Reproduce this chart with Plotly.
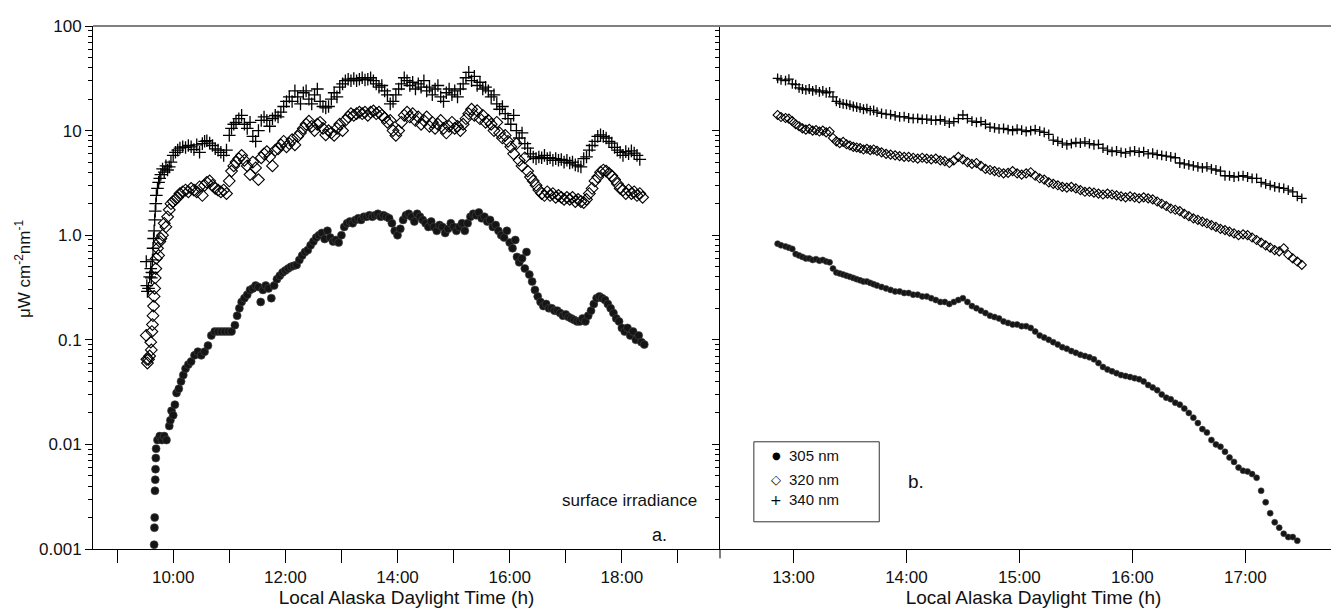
import plotly.graph_objects as go

# ---------------- data (hours local time, irradiance) ----------------
# panel a. (left)
a305_t = [9.66, 9.665, 9.67, 9.675, 9.68, 9.685, 9.69, 9.695, 9.72, 9.76, 9.80, 9.84, 9.88, 9.93, 9.95, 9.97,
          10.00, 10.03, 10.06, 10.10, 10.14, 10.18, 10.22, 10.27, 10.32, 10.38, 10.44, 10.50, 10.56, 10.62, 10.68,
          10.74, 10.80, 10.86, 10.92, 10.98, 11.04, 11.10, 11.14, 11.18, 11.22, 11.27, 11.32, 11.37, 11.42, 11.47,
          11.52, 11.56, 11.60, 11.65, 11.70, 11.75, 11.80, 11.85, 11.90, 11.95, 12.00, 12.05, 12.10, 12.15, 12.20,
          12.25, 12.30, 12.35, 12.40, 12.45, 12.50, 12.55, 12.60, 12.65, 12.70, 12.75, 12.80, 12.85, 12.90, 12.95,
          13.00, 13.05, 13.10, 13.15, 13.20, 13.25, 13.30, 13.35, 13.40, 13.45, 13.50, 13.55, 13.60, 13.65, 13.70,
          13.75, 13.80, 13.85, 13.90, 13.95, 14.00, 14.05, 14.10, 14.15, 14.20, 14.25, 14.30, 14.35, 14.40, 14.45,
          14.50, 14.55, 14.60, 14.65, 14.70, 14.75, 14.80, 14.85, 14.90, 14.95, 15.00, 15.05, 15.10, 15.15, 15.20,
          15.25, 15.30, 15.35, 15.40, 15.45, 15.50, 15.55, 15.60, 15.65, 15.70, 15.75, 15.80, 15.85, 15.90, 15.95,
          16.00, 16.05, 16.10, 16.13, 16.17, 16.22, 16.27, 16.30, 16.35, 16.40, 16.45, 16.50, 16.55, 16.60, 16.65,
          16.70, 16.75, 16.80, 16.85, 16.90, 16.95, 17.00, 17.05, 17.10, 17.15, 17.20, 17.25, 17.30, 17.35, 17.40,
          17.45, 17.50, 17.55, 17.60, 17.65, 17.70, 17.75, 17.80, 17.85, 17.90, 17.95, 18.00, 18.05, 18.10, 18.15,
          18.20, 18.25, 18.30, 18.35, 18.40]
a305_v = [0.0011, 0.0016, 0.002, 0.0036, 0.0046, 0.0058, 0.0074, 0.0091, 0.011, 0.012, 0.011, 0.012, 0.011, 0.015,
          0.017, 0.021, 0.019, 0.024, 0.031, 0.034, 0.040, 0.046, 0.053, 0.058, 0.062, 0.071, 0.077, 0.071, 0.077,
          0.088, 0.11, 0.12, 0.12, 0.12, 0.12, 0.12, 0.12, 0.138, 0.17, 0.2, 0.23, 0.25, 0.27, 0.30, 0.31, 0.33,
          0.32, 0.23, 0.30, 0.33, 0.31, 0.25, 0.33, 0.38, 0.41, 0.44, 0.46, 0.48, 0.5, 0.51, 0.52, 0.58, 0.64, 0.69,
          0.72, 0.80, 0.87, 0.95, 1.0, 1.05, 0.92, 1.1, 0.95, 0.87, 0.90, 0.85, 1.0, 1.2, 1.3, 1.35, 1.3, 1.4, 1.45,
          1.4, 1.5, 1.5, 1.55, 1.5, 1.55, 1.6, 1.5, 1.55, 1.5, 1.45, 1.3, 1.1, 1.0, 1.15, 1.4, 1.55, 1.6, 1.5, 1.35,
          1.6, 1.5, 1.4, 1.3, 1.2, 1.35, 1.2, 1.1, 1.25, 1.2, 1.05, 1.15, 1.3, 1.2, 1.1, 1.2, 1.3, 1.1, 1.3, 1.5, 1.6,
          1.55, 1.65, 1.45, 1.5, 1.35, 1.4, 1.2, 1.25, 1.1, 1.0, 0.95, 1.1, 0.85, 0.75, 0.9, 0.62, 0.55, 0.6, 0.48,
          0.69, 0.42, 0.36, 0.3, 0.26, 0.23, 0.21, 0.22, 0.2, 0.2, 0.19, 0.19, 0.18, 0.17, 0.175, 0.165, 0.16, 0.155,
          0.15, 0.15, 0.16, 0.15, 0.17, 0.19, 0.22, 0.25, 0.26, 0.25, 0.24, 0.22, 0.2, 0.18, 0.16, 0.15, 0.13, 0.12,
          0.13, 0.11, 0.12, 0.1, 0.11, 0.095, 0.09]

a320_t = [9.52, 9.53, 9.54, 9.56, 9.58, 9.60, 9.61, 9.62, 9.63, 9.64, 9.65, 9.66, 9.67, 9.68, 9.69, 9.70, 9.72,
          9.74, 9.76, 9.78, 9.81, 9.84, 9.87, 9.90, 9.93, 9.96, 10.00, 10.04, 10.08, 10.12, 10.17, 10.22, 10.27,
          10.32, 10.37, 10.42, 10.47, 10.52, 10.56, 10.60, 10.65, 10.70, 10.75, 10.80, 10.85, 10.90, 10.95, 11.00,
          11.04, 11.08, 11.12, 11.17, 11.22, 11.27, 11.32, 11.37, 11.42, 11.47, 11.52, 11.57, 11.62, 11.67, 11.72,
          11.77, 11.82, 11.87, 11.92, 11.97, 12.02, 12.07, 12.12, 12.17, 12.22, 12.27, 12.32, 12.37, 12.42, 12.47,
          12.52, 12.57, 12.62, 12.67, 12.72, 12.77, 12.82, 12.87, 12.92, 12.97, 13.02, 13.07, 13.12, 13.17, 13.22,
          13.27, 13.32, 13.37, 13.42, 13.47, 13.52, 13.57, 13.62, 13.67, 13.72, 13.77, 13.82, 13.87, 13.92, 13.97,
          14.02, 14.07, 14.12, 14.17, 14.22, 14.27, 14.32, 14.37, 14.42, 14.47, 14.52, 14.57, 14.62, 14.67, 14.72,
          14.77, 14.82, 14.87, 14.92, 14.97, 15.02, 15.07, 15.12, 15.17, 15.22, 15.27, 15.32, 15.37, 15.42, 15.47,
          15.52, 15.57, 15.62, 15.67, 15.72, 15.77, 15.82, 15.87, 15.92, 15.97, 16.02, 16.07, 16.12, 16.17, 16.22,
          16.27, 16.32, 16.37, 16.42, 16.47, 16.52, 16.57, 16.62, 16.67, 16.72, 16.77, 16.82, 16.87, 16.92, 16.97,
          17.02, 17.07, 17.12, 17.17, 17.22, 17.27, 17.32, 17.37, 17.42, 17.47, 17.52, 17.57, 17.62, 17.67, 17.72,
          17.77, 17.82, 17.87, 17.92, 17.97, 18.02, 18.07, 18.12, 18.17, 18.22, 18.27, 18.32, 18.37]
a320_v = [0.11, 0.065, 0.06, 0.065, 0.07, 0.095, 0.08, 0.12, 0.14, 0.17, 0.21, 0.26, 0.31, 0.39, 0.48, 0.6, 0.75,
          0.64, 0.87, 0.93, 1.0, 1.3, 1.2, 1.5, 1.75, 2.0, 2.1, 2.2, 2.3, 2.5, 2.6, 2.7, 2.6, 2.8, 2.7, 2.6, 2.9, 2.4,
          3.0, 3.2, 3.3, 3.0, 2.8, 2.7, 2.6, 2.7, 2.5, 3.3, 4.1, 4.6, 5.0, 5.4, 5.8, 5.2, 4.6, 3.8, 5.0, 4.4, 3.4,
          5.5, 6.0, 6.3, 5.6, 4.6, 6.5, 6.7, 7.3, 7.9, 7.0, 7.5, 8.2, 7.3, 8.8, 9.5, 10.5, 11.5, 12.3, 11.0, 10.0,
          11.5, 12.0, 10.5, 9.1, 10.0, 9.5, 9.0, 10.5, 11.5, 10.0, 12.5, 13.5, 14.5, 14.0, 14.5, 15.0, 14.5, 15.0,
          14.0, 15.0, 15.4, 14.5, 15.0, 14.0, 13.2, 12.0, 12.5, 10.0, 9.0, 10.0, 12.0, 14.0, 15.0, 13.5, 14.5, 12.5,
          13.5, 11.5, 12.5, 13.5, 11.0, 12.0, 10.5, 11.5, 12.5, 10.5, 9.5, 11.0, 12.0, 10.5, 11.0, 10.0, 11.5, 13.0,
          14.5, 16.0, 14.0, 15.5, 13.0, 14.0, 12.0, 12.5, 11.5, 10.0, 12.0, 9.5, 8.5, 9.0, 7.9, 7.0, 6.0, 7.5, 5.2,
          4.6, 5.5, 4.1, 3.6, 3.3, 3.0, 2.7, 2.5, 2.4, 2.6, 2.4, 2.5, 2.3, 2.4, 2.3, 2.2, 2.3, 2.2, 2.3, 2.1, 2.2,
          2.1, 2.05, 2.2, 2.5, 2.8, 3.3, 3.6, 4.0, 4.2, 4.1, 3.9, 3.7, 3.4, 3.1, 2.8, 2.7, 2.5, 2.7, 2.5, 2.6, 2.4,
          2.5, 2.3]

a340_t = a320_t
a340_v = [0.56, 0.33, 0.29, 0.31, 0.40, 0.48, 0.39, 0.44, 0.58, 0.75, 0.93, 1.1, 1.4, 1.7, 2.0, 2.4, 2.8, 3.2,
          3.5, 3.8, 4.3, 4.0, 4.6, 4.2, 4.5, 5.0, 5.8, 6.2, 6.5, 6.8, 7.0, 6.9, 7.2, 7.0, 6.6, 7.3, 6.2, 7.5, 7.9,
          8.0, 7.6, 7.2, 6.7, 6.5, 6.2, 5.8, 6.5, 9.0, 10.5, 11.5, 12.0, 13.0, 14.0, 11.5, 10.5, 12.0, 8.8, 7.9,
          10.0, 12.5, 13.5, 12.5, 11.0, 13.0, 14.0, 13.5, 15.0, 17.0, 19.0, 21.0, 19.0, 24.0, 21.0, 18.0, 23.0,
          24.0, 20.0, 18.0, 22.0, 25.0, 19.0, 17.0, 16.5, 17.0, 20.0, 23.0, 21.0, 26.0, 28.0, 30.0, 31.0, 30.0,
          31.5, 30.0, 31.0, 32.0, 30.5, 31.0, 32.0, 30.0, 28.0, 26.0, 27.0, 24.0, 22.0, 18.0, 19.0, 22.0, 25.0,
          28.0, 32.0, 30.0, 27.0, 29.0, 25.0, 28.0, 26.0, 30.0, 24.0, 26.0, 22.0, 25.0, 27.0, 21.0, 19.0, 23.0,
          25.0, 22.0, 24.0, 21.0, 25.0, 28.0, 32.0, 36.0, 30.0, 33.0, 27.0, 29.0, 25.0, 26.0, 24.0, 21.0, 22.0,
          18.0, 16.0, 17.0, 14.5, 13.0, 11.5, 14.0, 10.0, 8.5, 9.5, 7.5, 6.8, 6.0, 5.6, 5.4, 5.6, 5.5, 5.8, 5.4,
          5.5, 5.2, 5.4, 5.2, 5.3, 5.0, 5.2, 4.9, 5.0, 4.7, 4.6, 4.5, 5.4, 5.6, 6.5, 7.2, 7.9, 8.8, 9.1, 8.8, 8.5,
          7.9, 7.6, 6.9, 6.5, 6.2, 5.8, 6.3, 6.0, 6.4, 6.1, 5.8, 5.3]

# panel b. (right)
b_t = [12.86, 12.89, 12.93, 12.96, 12.99, 13.02, 13.05, 13.08, 13.11, 13.14, 13.17, 13.20, 13.23, 13.26, 13.29,
       13.32, 13.35, 13.38, 13.41, 13.44, 13.47, 13.50, 13.53, 13.56, 13.59, 13.62, 13.65, 13.68, 13.71, 13.74,
       13.78, 13.82, 13.86, 13.90, 13.94, 13.98, 14.02, 14.06, 14.10, 14.14, 14.18, 14.22, 14.26, 14.30, 14.34,
       14.38, 14.42, 14.46, 14.50, 14.54, 14.58, 14.62, 14.66, 14.70, 14.74, 14.78, 14.82, 14.86, 14.90, 14.94,
       14.98, 15.02, 15.06, 15.10, 15.14, 15.18, 15.22, 15.26, 15.30, 15.34, 15.38, 15.42, 15.46, 15.50, 15.54,
       15.58, 15.62, 15.66, 15.70, 15.74, 15.78, 15.82, 15.86, 15.90, 15.94, 15.98, 16.02, 16.06, 16.10, 16.14,
       16.18, 16.22, 16.26, 16.30, 16.34, 16.38, 16.42, 16.46, 16.50, 16.54, 16.58, 16.62, 16.66, 16.70, 16.74,
       16.78, 16.82, 16.86, 16.90, 16.94, 16.98, 17.02, 17.06, 17.10, 17.14, 17.18, 17.22, 17.26, 17.30, 17.34,
       17.38, 17.42, 17.46, 17.50]
b305_v = [0.83, 0.80, 0.78, 0.76, 0.74, 0.66, 0.64, 0.62, 0.60, 0.60, 0.58, 0.59, 0.57, 0.58, 0.56, 0.55, 0.48,
          0.44, 0.43, 0.42, 0.41, 0.40, 0.39, 0.38, 0.37, 0.36, 0.36, 0.35, 0.34, 0.33, 0.32, 0.31, 0.30, 0.29,
          0.29, 0.28, 0.28, 0.27, 0.27, 0.26, 0.26, 0.25, 0.24, 0.23, 0.23, 0.22, 0.23, 0.24, 0.25, 0.23, 0.21,
          0.20, 0.19, 0.18, 0.17, 0.165, 0.16, 0.15, 0.145, 0.14, 0.14, 0.135, 0.135, 0.13, 0.12, 0.11, 0.105,
          0.10, 0.095, 0.09, 0.085, 0.082, 0.078, 0.075, 0.072, 0.07, 0.068, 0.065, 0.06, 0.055, 0.052, 0.05,
          0.048, 0.046, 0.045, 0.044, 0.043, 0.042, 0.040, 0.037, 0.035, 0.033, 0.03, 0.028, 0.027, 0.025, 0.024,
          0.022, 0.02, 0.018, 0.016, 0.014, 0.013, 0.011, 0.010, 0.0095, 0.0085, 0.0075, 0.0068, 0.006, 0.0056,
          0.0055, 0.0052, 0.0048, 0.0036, 0.0028, 0.0022, 0.0018, 0.0016, 0.0014, 0.0013, 0.0013, 0.0012, None]
b320_v = [14.1, 13.5, 13.2, 13.0, 12.3, 11.5, 11.0, 10.5, 10.2, 10.4, 10.0, 10.1, 9.8, 10.0, 9.6, 9.8, 8.5, 7.9,
          7.6, 7.8, 7.4, 7.2, 7.0, 6.9, 6.8, 6.6, 6.7, 6.5, 6.6, 6.4, 6.2, 6.0, 5.9, 5.8, 5.7, 5.6, 5.6, 5.5, 5.4,
          5.5, 5.4, 5.3, 5.4, 5.2, 5.1, 4.9, 5.2, 5.6, 5.3, 5.0, 4.8, 4.9, 4.6, 4.3, 4.2, 4.1, 4.0, 3.9, 3.95,
          4.1, 3.9, 3.8, 3.9, 4.0, 3.7, 3.5, 3.4, 3.2, 3.1, 3.0, 2.9, 2.85, 2.9, 2.8, 2.7, 2.6, 2.6, 2.55, 2.5,
          2.45, 2.5, 2.45, 2.4, 2.35, 2.3, 2.35, 2.3, 2.25, 2.3, 2.25, 2.2, 2.1, 2.0, 1.9, 1.8, 1.75, 1.7, 1.6,
          1.52, 1.45, 1.4, 1.35, 1.3, 1.25, 1.2, 1.15, 1.12, 1.08, 1.04, 1.0, 1.02, 1.0, 0.95, 0.9, 0.85, 0.8,
          0.76, 0.72, 0.7, 0.75, 0.65, 0.6, 0.56, 0.52]
b340_v = [31.6, 30.5, 30.0, 31.0, 28.0, 27.5, 25.6, 25.0, 24.5, 25.0, 24.0, 24.5, 23.5, 24.0, 23.0, 23.5, 21.0,
          19.0, 18.3, 18.0, 17.8, 17.5, 17.0, 16.8, 16.5, 16.0, 16.2, 15.5, 15.6, 15.0, 14.6, 14.4, 14.2, 13.8,
          13.5, 13.6, 13.2, 13.0, 13.1, 12.8, 12.9, 12.6, 12.5, 12.7, 12.3, 11.8, 12.2, 13.0, 14.1, 13.0, 12.3,
          12.0, 12.2, 11.5, 10.8, 10.6, 10.4, 10.5, 10.2, 10.0, 10.3, 10.1, 9.8, 10.0, 10.2, 9.9, 9.6, 9.2, 8.1,
          7.9, 7.6, 7.3, 7.5, 7.7, 7.6, 7.8, 7.5, 7.3, 7.4, 6.8, 6.5, 6.3, 6.4, 6.2, 6.1, 6.3, 6.4, 6.2, 6.3, 6.0,
          6.1, 5.9, 5.8, 5.7, 5.6, 5.5, 4.9, 4.8, 4.7, 4.6, 4.5, 4.4, 4.5, 4.3, 4.2, 4.1, 3.7, 3.7, 3.6, 3.65,
          3.7, 3.6, 3.5, 3.5, 3.2, 3.1, 3.0, 2.9, 2.85, 2.8, 2.7, 2.6, 2.35, 2.25]

left_label_hours = [10, 12, 14, 16, 18]
left_label_text = ["10:00", "12:00", "14:00", "16:00", "18:00"]
left_minor_hours = [9, 11, 13, 15, 17, 19]
right_tick_hours = [13, 14, 15, 16, 17]
right_tick_text = ["13:00", "14:00", "15:00", "16:00", "17:00"]
y_tick_vals = [0.001, 0.01, 0.1, 1, 10, 100]
y_tick_text = ["0.001", "0.01", "0.1", "1.0", "10", "100"]
series_names = ["305 nm", "320 nm", "340 nm"]
legend_glyphs = ["●", "◇", "+"]

# ---------------- figure ----------------
FONT = "Liberation Sans, Arial, Helvetica, sans-serif"
INK = "#111111"
fig = go.Figure()


def styles(s):
    return [
        dict(symbol="circle", size=s, color="#151515", line=dict(width=0.6, color="#444444")),
        dict(symbol="diamond-open", size=s + 1, color="#000000", line=dict(width=1.1)),
        dict(symbol="cross-thin-open", size=s + 1, color="#000000", line=dict(width=1.3)),
    ]


for (t, v), name, m in zip([(a305_t, a305_v), (a320_t, a320_v), (a340_t, a340_v)], series_names, styles(8)):
    fig.add_trace(go.Scatter(x=t, y=v, mode="markers", name=name, marker=m,
                             xaxis="x", yaxis="y", showlegend=False))
for v, name, m in zip([b305_v, b320_v, b340_v], series_names, styles(6)):
    fig.add_trace(go.Scatter(x=b_t, y=v, mode="markers", name=name, marker=m,
                             xaxis="x2", yaxis="y2", showlegend=False))

minor_vals = [k * 10.0 ** e for e in range(-3, 2) for k in range(2, 10)]

yax = dict(type="log", range=[-3, 2], tickmode="array", tickvals=y_tick_vals, ticktext=y_tick_text,
           ticks="outside", ticklen=7, tickwidth=1, tickcolor="black",
           minor=dict(ticks="outside", ticklen=4, tickwidth=1, tickcolor="black", tickvals=minor_vals,
                      showgrid=False),
           showline=True, linecolor="black", linewidth=1, showgrid=False, zeroline=False,
           tickfont=dict(family=FONT, size=17, color=INK))
xax = dict(ticks="outside", ticklen=13, tickwidth=1, tickcolor="black", showline=True, linecolor="black",
           linewidth=1, showgrid=False, zeroline=False, tickfont=dict(family=FONT, size=17, color=INK),
           title=dict(text="Local Alaska Daylight Time (h)", font=dict(family=FONT, size=19, color=INK),
                      standoff=4))

# legend drawn as a boxed list of text entries
legend_y = [0.178, 0.132, 0.094]
legend_sizes = [10, 13, 14]
annotations = [
    dict(text="μW cm<sup>-2</sup>nm<sup>-1</sup>", xref="paper", yref="paper", x=-0.056, y=0.535,
         textangle=-90, showarrow=False, xanchor="center", yanchor="middle",
         font=dict(family=FONT, size=17, color=INK)),
    dict(text="surface irradiance", xref="paper", yref="paper", x=0.483, y=0.092, showarrow=False,
         xanchor="right", yanchor="middle", font=dict(family=FONT, size=17, color=INK)),
    dict(text="a.", xref="paper", yref="paper", x=0.452, y=0.027, showarrow=False,
         xanchor="center", yanchor="middle", font=dict(family=FONT, size=18, color=INK)),
    dict(text="b.", xref="paper", yref="paper", x=0.656, y=0.13, showarrow=False,
         xanchor="center", yanchor="middle", font=dict(family=FONT, size=19, color=INK)),
]
for g, nm, yy, gs in zip(legend_glyphs, series_names, legend_y, legend_sizes):
    annotations.append(dict(text=g, xref="paper", yref="paper", x=0.5447, y=yy, showarrow=False,
                            xanchor="center", yanchor="middle",
                            font=dict(family="DejaVu Sans, sans-serif", size=gs, color="#000")))
    annotations.append(dict(text=nm, xref="paper", yref="paper", x=0.5535, y=yy, showarrow=False,
                            xanchor="left", yanchor="middle", font=dict(family=FONT, size=15, color=INK)))

fig.update_layout(
    width=1339, height=614,
    margin=dict(l=85, r=0, t=18, b=73),
    paper_bgcolor="white", plot_bgcolor="white",
    xaxis=dict(xax, domain=[0, 0.5], range=[8.57, 19.75], tickmode="array", tickvals=left_label_hours,
               ticktext=left_label_text, anchor="y",
               minor=dict(tickmode="array", tickvals=left_minor_hours, ticks="outside", ticklen=13,
                          tickwidth=1, tickcolor="black", showgrid=False)),
    xaxis2=dict(xax, domain=[0.5, 1], range=[12.35, 17.9], tickmode="array", tickvals=right_tick_hours,
                ticktext=right_tick_text, anchor="y2"),
    yaxis=dict(yax, domain=[0, 1], anchor="x"),
    yaxis2=dict(yax, domain=[0, 1], anchor="x2", showticklabels=False),
    showlegend=False,
    shapes=[
        dict(type="line", xref="paper", yref="paper", x0=0, x1=1, y0=1, y1=1,
             line=dict(color="#808080", width=2)),
        dict(type="rect", xref="paper", yref="paper", x0=0.527, x1=0.627, y0=0.052, y1=0.205,
             line=dict(color="#333", width=1)),
        dict(type="line", xref="paper", yref="paper", x0=0.5, x1=0.5, y0=0, y1=-0.018,
             line=dict(color="black", width=1)),
    ],
    annotations=annotations,
)

fig.write_html("out.html")
